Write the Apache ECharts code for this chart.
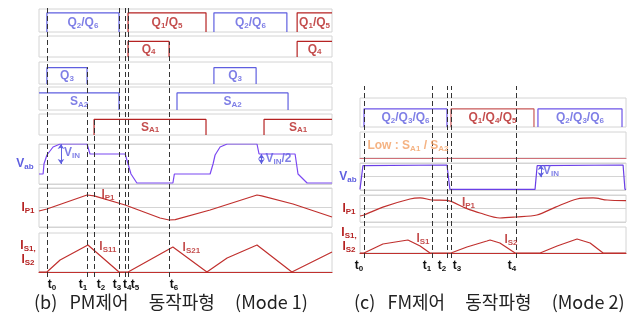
<!DOCTYPE html>
<html>
<head>
<meta charset="utf-8">
<script src="https://cdn.jsdelivr.net/npm/echarts@6/dist/echarts.min.js"></script>
<style>html,body{margin:0;padding:0;background:#fff}#chart{width:643px;height:322px}</style>
</head>
<body>
<div id="chart"></div>
<script>
// ---- (b) PM mode, time axis 0..100 ----
const bTimes = [2.7, 16.4, 18.8, 27.3, 29.4, 30.4, 44.4];
const bTimeNames = ['t{s|0}', 't{s|1}', 't{s|2}', 't{s|3}', 't{s|4}', 't{s|5}', 't{s|6}'];
const bQ26 = [[2.7, 27.3], [59.7, 84.6]];
const bQ15 = [[30.4, 57.0], [88.1, 100]];
const bQ4 = [[30.4, 44.4], [88.1, 100]];
const bQ3 = [[2.7, 16.4], [59.7, 74.1]];
const bSA2 = [[0, 27.3], [47.1, 85.0]];
const bSA1 = [[18.8, 57.0], [76.8, 100]];
const bVab = [[0, 1], [1.4, 1], [1.7, 2], [2.7, 2.9], [4.8, 3.7], [7.2, 4], [16.4, 4], [17.4, 3], [29.4, 3], [30.4, 2], [31.4, 1], [33.4, 0.1],
  [45.7, 0.1], [46.2, 1], [58.4, 1], [59.4, 2], [60.1, 2.9], [61.8, 3.7], [64.2, 4], [74.4, 4], [75.1, 3], [87.4, 3], [88.4, 1], [91.5, 0.1], [100, 0.1]];
const bIp1 = [[0, 1.64], [2.7, 1.85], [16.4, 3.28], [18.8, 3.2], [29.4, 2.26], [41.3, 0.92], [44.4, 0.72], [46.5, 0.75], [58.4, 1.74], [60, 1.9],
  [74.4, 3.28], [76, 3.2], [86.7, 2.36], [100, 1.03]];
const bIs = [[0, 0], [2.7, 0], [7.2, 1.23], [16.7, 2.77], [27.3, 0], [30.4, 0], [45.7, 2.56], [57.3, 0], [64.2, 1.44], [74.4, 2.77], [86.3, 0], [100, 2.05]];

// ---- (c) FM mode, time axis 0..100 ----
const cTimes = [1.5, 27.1, 32.7, 34.2, 58.6];
const cTimeNames = ['t{s|0}', 't{s|1}', 't{s|2}', 't{s|3}', 't{s|4}'];
const cQ236 = [[1.5, 32.7], [66.9, 98.5]];
const cQ145 = [[34.2, 65.4]];
const cVab = [[0, 0.1], [1.1, 3.6], [1.5, 3.7], [32.7, 3.7], [33.8, 0.1], [65.8, 0.1], [66.6, 3.6], [66.9, 3.7], [98.9, 3.7], [99.6, 0.1], [100, 0.1]];
const cIp1 = [[0, 0.89], [1.5, 1.04], [8.6, 2.2], [18.8, 3.41], [22.6, 3.56], [27.1, 3.26], [32.7, 3.2], [39.5, 2.1], [45.1, 1.33], [52.6, 0.59],
  [58.6, 0.74], [66.5, 1.04], [73.5, 2.2], [81.6, 3.41], [87.6, 3.56], [92.9, 3.26], [100, 3.16]];
const cIs = [[0, 0], [1.5, 0], [8.6, 1.38], [18, 2.0], [22.6, 1.08], [26.3, 0], [34.2, 0], [40.2, 0.92], [47.7, 1.85], [48.9, 2.0], [52.6, 1.54],
  [58.3, 0], [67.7, 0], [74.1, 1.08], [81.6, 2.15], [86.5, 1.54], [91.4, 0], [100, 0]];

const captions = ['(b)   PM제어     동작파형     (Mode 1)', '(c)   FM제어     동작파형     (Mode 2)'];

const BLUE = '#5f5fe0', RED = '#b52222', VAB = '#7b48f2', CUR = '#c0302e', GRID = '#d4d4d4';
const FONT = 'Liberation Sans';
const rich = { s: { fontSize: 8, padding: [6, 0, 0, 0] } };

const PB = { left: 39, right: 311 };
const PC = { left: 360, right: 17 };

const grids = [], xAxes = [], yAxes = [], series = [];

function addRow(p, top, height, ymax, o) {
    o = o || {};
    const i = grids.length;
    grids.push({ left: p.left, right: p.right, top, height, show: true, borderColor: GRID, borderWidth: 1 });
    xAxes.push({
        gridIndex: i, type: 'value', min: 0, max: 100,
        axisLine: { show: !!o.base, onZero: false, lineStyle: { color: o.base, width: 1.2 } },
        axisTick: { show: false }, axisLabel: { show: false }, splitLine: { show: false },
    });
    yAxes.push({
        gridIndex: i, type: 'value', min: 0, max: ymax, interval: o.split ? ymax / 2 : ymax,
        axisLine: { show: false }, axisTick: { show: false }, axisLabel: { show: false },
        splitLine: { show: !!o.split, lineStyle: { color: GRID } },
        name: o.name || '', nameLocation: 'middle', nameRotate: 0, nameGap: o.nameGap || 13,
        nameTextStyle: { color: o.nameColor, fontSize: 12, fontFamily: FONT, fontWeight: 'bold', align: 'center', verticalAlign: 'middle', rich, lineHeight: 14 },
    });
    return i;
}

function line(i, data, color, extra) {
    series.push(Object.assign({
        type: 'line', xAxisIndex: i, yAxisIndex: i, data, symbol: 'none',
        lineStyle: { color, width: 1.2 }, silent: true,
    }, extra || {}));
}

function pulses(i, list, color, text, lc) {
    const d = [];
    list.forEach(([a, b]) => {
        if (a > 0) d.push([a, 0]);
        d.push([a, 1], [b, 1]);
        if (b < 100) d.push([b, 0]);
        d.push([b, '-']);
    });
    line(i, d, lc || color);
    series.push({
        type: 'scatter', xAxisIndex: i, yAxisIndex: i, symbolSize: 0, silent: true,
        data: list.map(([a, b]) => [(a + b) / 2, 0.5, text]),
        label: { show: true, position: 'inside', formatter: p => p.data[2], color, fontSize: 12, fontWeight: 'bold', fontFamily: FONT, rich },
    });
}

function notes(i, list, color) {
    series.push({
        type: 'scatter', xAxisIndex: i, yAxisIndex: i, symbolSize: 0, silent: true, z: 5,
        data: list,
        label: { show: true, position: 'right', distance: 0, formatter: p => p.data[2], color, fontSize: 12, fontWeight: 'bold', fontFamily: FONT, rich },
    });
}

function arrow(x, y0, y1, color) {
    return {
        silent: true, symbol: ['arrow', 'arrow'], symbolSize: 5,
        lineStyle: { color, type: 'solid', width: 1 }, label: { show: false },
        data: [[{ coord: [x, y0] }, { coord: [x, y1] }]],
    };
}

// dashed event lines; tops = fraction of the panel height where each line begins
function overlay(p, top, bottom, times, names, dx, tops) {
    const i = grids.length;
    grids.push({ left: p.left, right: p.right, top, bottom, show: false });
    xAxes.push({ gridIndex: i, type: 'value', min: 0, max: 100, show: false });
    yAxes.push({ gridIndex: i, type: 'value', min: 0, max: 1, show: false });
    series.push({
        type: 'line', xAxisIndex: i, yAxisIndex: i, data: [], z: 10,
        markLine: {
            silent: true, symbol: 'none',
            lineStyle: { type: [5, 3], color: '#333', width: 1 },
            label: { position: 'start', distance: 1, formatter: '{b}', color: '#111', fontSize: 12, fontWeight: 'bold', fontFamily: FONT, rich },
            data: times.map((t, k) => [
                { coord: [t, 0], name: names[k], label: { offset: [dx[k], 0] } },
                { coord: [t, tops ? tops[k] : 1] },
            ]),
        },
    });
}

// ---- (b) rows ----
let r = addRow(PB, 9, 23, 1.2);
pulses(r, bQ26, BLUE, 'Q{s|2}/Q{s|6}');
pulses(r, bQ15, RED, 'Q{s|1}/Q{s|5}');
r = addRow(PB, 36, 21, 1.35);
pulses(r, bQ4, RED, 'Q{s|4}');
r = addRow(PB, 62, 22, 1.35);
pulses(r, bQ3, BLUE, 'Q{s|3}');
r = addRow(PB, 87, 23, 1.35);
pulses(r, bSA2, BLUE, 'S{s|A2}');
r = addRow(PB, 114, 21, 1.35);
pulses(r, bSA1, RED, 'S{s|A1}');
r = addRow(PB, 144, 40, 4, { split: true, name: 'V{s|ab}', nameColor: BLUE, nameGap: 14 });
line(r, bVab, VAB, { markLine: arrow(7.5, 4, 2, BLUE) });
series.push({ type: 'line', xAxisIndex: r, yAxisIndex: r, data: [], markLine: arrow(75.9, 3, 2, BLUE) });
notes(r, [[8.5, 3.1, 'V{s|IN}'], [77.3, 2.5, 'V{s|IN}/2']], BLUE);
r = addRow(PB, 188, 39, 4, { split: true, name: 'I{s|P1}', nameColor: RED, nameGap: 11 });
line(r, bIp1, CUR);
notes(r, [[21.3, 3.3, 'I{s|P1}']], RED);
r = addRow(PB, 233, 39, 4, { base: CUR, name: 'I{s|S1,}\nI{s|S2}', nameColor: RED, nameGap: 11 });
line(r, bIs, CUR);
notes(r, [[20.6, 2.6, 'I{s|S11}'], [49.0, 2.5, 'I{s|S21}']], RED);
overlay(PB, 8, 45, bTimes, bTimeNames, [5, -4, 7, -2, 2, 7, 5], [1, 0.78, 0.587, 1, 1, 1, 0.874]);

// ---- (c) rows ----
r = addRow(PC, 98, 29, 1.6);
pulses(r, cQ236, BLUE, 'Q{s|2}/Q{s|3}/Q{s|6}', '#6d55e8');
pulses(r, cQ145, RED, 'Q{s|1}/Q{s|4}/Q{s|5}', '#c85858');
r = addRow(PC, 132, 26, 1, { base: '#cf7078' });
notes(r, [[2.8, 0.46, 'Low : S{s|A1} / S{s|A2}']], '#f2a064');
r = addRow(PC, 163, 27, 4, { split: true, name: 'V{s|ab}', nameColor: BLUE, nameGap: 12 });
line(r, cVab, '#6a3fe6', { markLine: arrow(68.0, 3.7, 1.9, BLUE) });
notes(r, [[68.8, 2.8, 'V{s|IN}']], BLUE);
r = addRow(PC, 195, 27, 4, { split: true, name: 'I{s|P1}', nameColor: RED, nameGap: 11 });
line(r, cIp1, CUR, { smooth: 0.3 });
notes(r, [[38.3, 2.8, 'I{s|P1}']], RED);
r = addRow(PC, 227, 26, 4, { base: CUR, name: 'I{s|S1,}\nI{s|S2}', nameColor: RED, nameGap: 11 });
line(r, cIs, CUR);
notes(r, [[21.2, 2.15, 'I{s|S1}'], [54.3, 2.0, 'I{s|S2}']], RED);
overlay(PC, 86, 64, cTimes, cTimeNames, [-5, -5, -5, 6, -4]);

const capStyle = { fontSize: 18, fontWeight: 'normal', color: '#222', fontFamily: 'Noto Sans CJK KR' };
const chart = echarts.init(document.getElementById('chart'), null, { renderer: 'canvas' });
chart.setOption({
    animation: false,
    backgroundColor: '#fff',
    title: [
        { text: captions[0], left: 29, top: 288, textStyle: capStyle },
        { text: captions[1], left: 349, top: 288, textStyle: capStyle },
    ],
    grid: grids,
    xAxis: xAxes,
    yAxis: yAxes,
    series,
});
</script>
</body>
</html>
